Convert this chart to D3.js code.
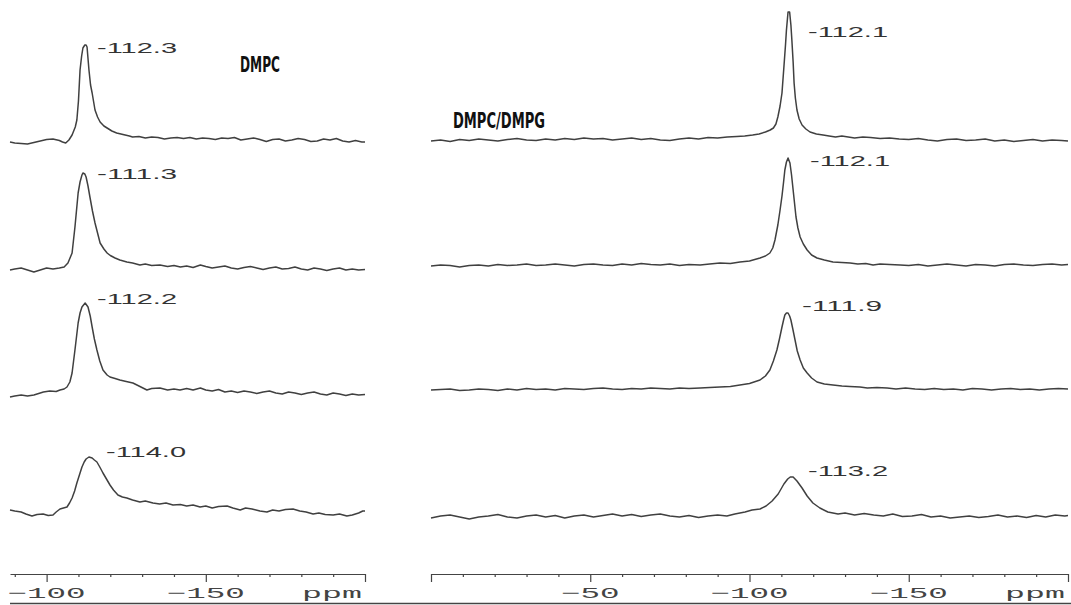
<!DOCTYPE html>
<html><head><meta charset="utf-8">
<script src="https://cdn.jsdelivr.net/npm/d3@7"></script>
<style>html,body{margin:0;padding:0;background:#fff;} svg{display:block;}</style>
</head><body>
<svg id="c" width="1071" height="605"></svg>
<script>
// ---------------- DATA ----------------
const panelTitles = ["DMPC", "DMPC/DMPG"];
const shiftLabels = ["-112.3", "-111.3", "-112.2", "-114.0", "-112.1", "-112.1", "-111.9", "-113.2"];
const axisUnit = "ppm";
const leftMajorTicks = [-100, -150, -200];
const leftMinorTicks = [-90, -110, -120, -130, -140, -160, -170, -180, -190];
const leftTickLabels = ["-100", "-150"];
const rightMajorTicks = [0, -50, -100, -150, -200];
const rightMinorTicks = [-10, -20, -30, -40, -60, -70, -80, -90, -110, -120, -130, -140, -160, -170, -180, -190];
const rightTickLabels = ["-50", "-100", "-150"];

// spectra: [ppm, intensity (arb. units)]
const dmpcA = [[-88.5,-1],[-90,-2],[-92,-2.5],[-94,-3],[-96,-1.5],[-98,0],[-100,1.5],[-102,2],[-104,0.5],[-105,-1],[-106,-2],[-107,1],[-108,6],[-109,14],[-109.5,21],[-110,40],[-110.5,71],[-111,85],[-111.4,93],[-112,96],[-112.4,96],[-112.7,94],[-113.3,71],[-113.8,56],[-114.3,48],[-115.2,31],[-116,24],[-116.8,19],[-118,15],[-119,13],[-120.5,10],[-122,8],[-124,6.5],[-126,5],[-127,4],[-129,4.5],[-131,3],[-133,4],[-135,3.5],[-137,2],[-139,3],[-141,3.5],[-143,2.5],[-145,3.5],[-147,2],[-149,3],[-151,2.5],[-153,1.5],[-155,3],[-157,2.5],[-159,3.5],[-161,1],[-163,2],[-165,3],[-167,1.5],[-169,-0.5],[-171,1.5],[-173,2],[-175,0],[-177,1],[-179,2.5],[-181,1.5],[-183,-0.5],[-185,0],[-187,2],[-189,1],[-191,2.5],[-193,0],[-195,-1],[-197,0.5],[-199,-1],[-200,-1]];
const dmpcB = [[-88.5,-2],[-90,-1],[-92,0],[-94,-2],[-96,-4],[-98,-2],[-100,0],[-102,-1],[-104,0],[-105.5,1],[-106.7,5],[-108,15],[-108.9,41],[-109.9,75],[-110.5,86],[-111.1,93],[-111.4,95],[-112,94],[-112.4,91],[-113,82],[-113.6,71],[-114.4,57],[-115.2,45],[-116,35],[-116.8,25],[-118,19],[-119,15],[-120,12.5],[-121.5,10],[-123,8],[-125.2,6],[-127,5],[-129.3,3],[-131,4],[-133,2.5],[-135.6,3],[-138,1.5],[-140,2.5],[-142,1],[-144,2],[-146,0.5],[-148.3,3],[-150,1.5],[-152,0],[-154,1],[-156,2],[-158,0],[-160,-1],[-162,0.5],[-164,1.5],[-166,0],[-168,-1.5],[-170,0],[-172,1],[-174,-1],[-176,-0.5],[-178,1],[-180,-1],[-182,-2],[-184,0],[-186,-1],[-188,-2.5],[-190,-1],[-192,0],[-194,-2],[-196,-1],[-198,-2],[-200,-1.5]];
const dmpcC = [[-88.5,-5],[-90,-4],[-92,-3],[-94,-4],[-96,-3],[-98,-1],[-99,0],[-101,1],[-103,0.5],[-104.2,2],[-105.5,3],[-106.4,5],[-107.3,10],[-108,19],[-108.9,42],[-109.9,69],[-110.5,79],[-111.1,85],[-112.1,89],[-113,85],[-113.7,76],[-114.3,65],[-115,53],[-115.8,42],[-116.7,31],[-117.7,22],[-119,17],[-119.9,15],[-121.5,13.5],[-123,12],[-125,10.5],[-127.1,9],[-129,6],[-131.5,2],[-133,3.5],[-135.6,4],[-138,2],[-140,3],[-141.9,2],[-144,3.5],[-146,2],[-148.3,4],[-150,2],[-152,1],[-154,2.5],[-156,0],[-158,1],[-160,-0.5],[-162,1],[-164,0],[-166,-1.5],[-168,0],[-170,1],[-172,-1],[-174,-2],[-176,0],[-178,-1],[-180,-2.5],[-182,-1],[-184,0],[-186,-2],[-188,-3],[-190,-1],[-192,-2],[-194,-3.5],[-196,-2],[-198,-3],[-200,-2.5]];
const dmpcD = [[-88.5,2],[-90,1],[-92,0],[-93.5,-2],[-95.4,-4],[-97,-2.5],[-98.9,-2],[-100.5,-3.5],[-102,-3],[-103,0],[-104.2,3],[-105.3,4],[-106.4,5],[-107.2,9],[-108,14],[-108.8,21],[-109.5,29],[-110.3,37],[-111.1,45],[-111.8,50],[-112.4,53],[-113.3,55],[-114.3,54],[-115,52],[-115.8,50],[-116.7,45],[-117.7,39],[-118.8,33],[-119.9,27],[-121,22],[-122.4,17],[-123.8,15],[-125.2,14],[-127,12],[-129.3,10],[-131,11],[-133.4,9],[-135.5,8],[-137.5,9],[-139.7,7],[-142,7.5],[-144,6],[-146,7],[-148.2,5],[-150,6],[-152,4],[-154,5.5],[-156.7,6],[-158.5,4],[-160.8,2],[-162.5,4],[-164.5,3],[-167,1],[-169.2,0],[-171,2],[-173,1],[-175,2.5],[-177.4,3],[-179.5,1],[-181.5,0],[-183.7,-2],[-185.5,-1],[-187.5,-2.5],[-190,-3],[-192,-2],[-194.3,-4],[-196,-3],[-198,-1],[-199.3,1],[-200,1]];

const mixA = [[0,-1],[-3,0],[-6,-1.5],[-9,0.5],[-12,-0.5],[-15,1],[-18,0],[-21,-1],[-24,0.5],[-27,1.5],[-30,0],[-33,-0.5],[-36,1],[-39,0],[-42,1.5],[-45,0.5],[-48,2],[-51,1],[-54,1.5],[-57,0],[-60,1],[-63,2],[-66,0.5],[-69,1.5],[-72,0],[-75,-0.5],[-78,1],[-81,2],[-84,1],[-87,2.5],[-90,2],[-93,3],[-96,3.5],[-98.5,4],[-101,5],[-103,6],[-105,8],[-106.5,10],[-107.5,12],[-108.3,16],[-108.9,23],[-109.6,34],[-110.2,47],[-110.8,73],[-111.3,95],[-111.6,110],[-112.1,128],[-112.6,128],[-113,115],[-113.3,100],[-113.7,78],[-114,57],[-114.4,42],[-114.9,30],[-115.6,21],[-116.5,15],[-117.7,11],[-119,8],[-121,6],[-123.1,5],[-125,4],[-127,3],[-129,4],[-131,3],[-133,2],[-135.6,3],[-138,2.5],[-141,1.5],[-144,2],[-147,1],[-150,0.5],[-153,1.5],[-156,0],[-159,-1],[-162,0.5],[-165,1],[-168,-0.5],[-171,0],[-174,1],[-177,-1],[-180,0],[-183,-1.5],[-186,-0.5],[-189,0.5],[-192,-1],[-195,0],[-198,-0.5],[-200,-1]];
const mixB = [[0,-1],[-3,0],[-6,-0.5],[-9,-2],[-12,-0.5],[-15,0],[-18,-1],[-21,0.5],[-24,-0.5],[-27,0],[-30,1],[-33,-0.5],[-36,0],[-39,1],[-42,0],[-45,-1],[-48,0.5],[-51,1],[-54,0],[-57,-0.5],[-60,1],[-63,0],[-66,1.5],[-69,0.5],[-72,0],[-75,1],[-78,-0.5],[-81,0.5],[-84.5,0],[-87.5,1],[-90.7,2],[-94,1.5],[-97,3],[-100,4],[-103.3,7],[-105,9],[-106.4,12],[-107.3,17],[-108,25],[-108.9,40],[-109.6,55],[-110.2,69],[-110.7,83],[-111.1,95],[-111.6,103],[-112.1,107],[-112.7,102],[-113.2,90],[-113.7,75],[-114.2,60],[-114.6,48],[-115.2,37],[-115.9,28],[-116.9,21],[-118.1,15],[-119.5,10],[-121.2,7],[-123.5,5],[-126.2,3],[-129,2.5],[-131.6,2],[-134,1],[-136.5,1.5],[-138.8,0],[-141,1],[-144,0.5],[-147.3,0],[-150,-0.5],[-153,0.5],[-156,-1],[-159,0],[-162,1],[-165,0],[-168,-1],[-171,0.5],[-174,0],[-177,-1],[-180,0.5],[-183,1],[-186,0],[-189,-0.5],[-192,0.5],[-195,1],[-198,0],[-200,0.5]];
const mixC = [[0,-1],[-3,-0.5],[-6,0],[-9,-1.5],[-12,-1],[-15,0],[-18,-0.5],[-21,-1.5],[-24,0],[-27,-1],[-30,0.5],[-33,-0.5],[-36,0],[-39,-1],[-42,0.5],[-45,0],[-48,-0.5],[-51,0.5],[-54,1],[-57,0],[-60,-0.5],[-63,0.5],[-66,0],[-69,1],[-72,0.5],[-75,0],[-78,1],[-81,0.5],[-84.5,1],[-87.5,1.5],[-90.7,2],[-94,2.5],[-97,4],[-100,5.5],[-103.3,9],[-105,13],[-106.4,19],[-107.5,28],[-108.6,39],[-109.4,50],[-110.2,62],[-110.7,69],[-111.1,74],[-111.6,76],[-112.1,76],[-112.6,73],[-113,69],[-113.6,60],[-114.3,49],[-115,38],[-115.9,29],[-116.9,21],[-118.1,16],[-119.5,11],[-121.2,7],[-123.5,5],[-126.2,4],[-129,3],[-131.5,2.5],[-134.7,2],[-137,1],[-140,1.5],[-143.2,1],[-146,0],[-149,1],[-152,0],[-155,-0.5],[-158,0.5],[-161,-0.5],[-164,0],[-167,-1],[-170,0.5],[-173,0],[-176,-1],[-179,0],[-182,0.5],[-185,-0.5],[-188,0],[-191,-1],[-194,0],[-197,0.5],[-200,0]];
const mixD = [[0,-2],[-3,0],[-6,1],[-9,-1],[-12,-3],[-15,-1],[-18,0],[-21,1.5],[-24,-1],[-27,-2],[-30,0],[-33,1],[-36,-1],[-39,0.5],[-42,-2],[-45,0],[-48,1],[-51,-1],[-54,0.5],[-57,2],[-60,0],[-63,1.5],[-66,-0.5],[-69,1],[-72,2],[-75,0],[-78,-1],[-81,0.5],[-84,-1.5],[-87,0],[-90,1],[-92.9,0],[-95.4,2],[-98.6,4],[-100.8,6],[-103.3,7],[-105.2,10],[-107.1,15],[-109,22],[-110.8,32],[-112,37],[-112.8,39],[-113.7,39],[-114.9,35],[-116.5,28],[-118.1,20],[-119.9,13],[-122.1,8],[-124.6,4],[-127.8,2],[-130,3],[-133,1],[-136,2.5],[-139,1],[-142,0],[-145,2],[-148,-0.5],[-151,0],[-154,1.5],[-157,-1],[-160,0],[-163,-2],[-166,-1],[-169,0],[-172,-1.5],[-175,-0.5],[-178,1],[-181,-1],[-184,0],[-187,-1.5],[-190,0.5],[-193,-1],[-196,1],[-199,0],[-200,0.5]];

// ---------------- LAYOUT ----------------
const svg = d3.select("#c");
svg.append("rect").attr("width", 1071).attr("height", 605).attr("fill", "#fff");

const xLeft = d3.scaleLinear().domain([-88.5, -200]).range([10, 365]);
const xRight = d3.scaleLinear().domain([0, -200]).range([431, 1068]);

const leftBase = [141, 268, 392, 512];
const rightBase = [140, 265, 389, 516];
const rowScale = b => d3.scaleLinear().domain([0, 100]).range([b, b - 100]);

const spectra = [
  {data: dmpcA, x: xLeft, y: rowScale(leftBase[0]), label: shiftLabels[0], lx: 97, ly: 53},
  {data: dmpcB, x: xLeft, y: rowScale(leftBase[1]), label: shiftLabels[1], lx: 97, ly: 179},
  {data: dmpcC, x: xLeft, y: rowScale(leftBase[2]), label: shiftLabels[2], lx: 97, ly: 304},
  {data: dmpcD, x: xLeft, y: rowScale(leftBase[3]), label: shiftLabels[3], lx: 106, ly: 457},
  {data: mixA, x: xRight, y: rowScale(rightBase[0]), label: shiftLabels[4], lx: 808, ly: 37},
  {data: mixB, x: xRight, y: rowScale(rightBase[1]), label: shiftLabels[5], lx: 810, ly: 166},
  {data: mixC, x: xRight, y: rowScale(rightBase[2]), label: shiftLabels[6], lx: 802, ly: 311},
  {data: mixD, x: xRight, y: rowScale(rightBase[3]), label: shiftLabels[7], lx: 808, ly: 476}
];

const INK = "#404040";
spectra.forEach(s => {
  const line = d3.line().x(d => s.x(d[0])).y(d => s.y(d[1])).curve(d3.curveLinear);
  svg.append("path").attr("d", line(s.data)).attr("fill", "none")
    .attr("stroke", INK).attr("stroke-width", 1.5).attr("stroke-linejoin", "round");
  svg.append("text").attr("x", s.lx).attr("y", s.ly).text(s.label)
    .attr("font-family", "'Liberation Sans', Arial, sans-serif").attr("font-size", 15)
    .attr("fill", "#333").attr("textLength", 80).attr("lengthAdjust", "spacingAndGlyphs");
});

// titles
const titleFont = "'Liberation Sans Narrow', 'DejaVu Sans Condensed', sans-serif";
svg.append("text").attr("x", 240).attr("y", 72).text(panelTitles[0])
  .attr("font-family", titleFont).attr("font-weight", "bold").attr("font-size", 21)
  .attr("fill", "#111").attr("textLength", 40).attr("lengthAdjust", "spacingAndGlyphs");
svg.append("text").attr("x", 453).attr("y", 128).text(panelTitles[1])
  .attr("font-family", titleFont).attr("font-weight", "bold").attr("font-size", 21)
  .attr("fill", "#111").attr("textLength", 92).attr("lengthAdjust", "spacingAndGlyphs");

// axes
const AXIS_Y = 574;
const showMinus = s => s.replace("-", "\u2212");
function drawAxis(scale, minor, major, labelVals, labels) {
  const gMin = svg.append("g").attr("transform", `translate(0,${AXIS_Y})`)
    .call(d3.axisBottom(scale).tickValues(minor).tickSize(3).tickSizeOuter(0).tickFormat(""));
  const gMaj = svg.append("g").attr("transform", `translate(0,${AXIS_Y})`)
    .call(d3.axisBottom(scale).tickValues(major).tickSize(8).tickSizeOuter(0).tickFormat(""));
  gMaj.select(".domain").remove();
  [gMin, gMaj].forEach(g => {
    g.selectAll("path,line").attr("stroke", "#444").attr("stroke-width", 1.2);
  });
  labelVals.forEach((v, i) => {
    svg.append("text").attr("x", scale(v)).attr("y", 598).attr("text-anchor", "middle")
      .text(showMinus(labels[i])).attr("font-family", "'Liberation Mono', monospace").attr("font-size", 15)
      .attr("fill", "#444").attr("textLength", labels[i].length * 19.5)
      .attr("lengthAdjust", "spacingAndGlyphs");
  });
  svg.append("text").attr("x", scale(-200) - 3).attr("y", 598).attr("text-anchor", "end")
    .text(axisUnit).attr("font-family", "'Liberation Mono', monospace").attr("font-size", 15)
    .attr("fill", "#444").attr("textLength", 60).attr("lengthAdjust", "spacingAndGlyphs");
}
drawAxis(xLeft, leftMinorTicks, leftMajorTicks, leftTickLabels.map(Number), leftTickLabels);
drawAxis(xRight, rightMinorTicks, rightMajorTicks, rightTickLabels.map(Number), rightTickLabels);

// bottom rule
svg.append("line").attr("x1", 10).attr("x2", 1071).attr("y1", 603.5).attr("y2", 603.5)
  .attr("stroke", "#444").attr("stroke-width", 1.5);
</script>
</body></html>
